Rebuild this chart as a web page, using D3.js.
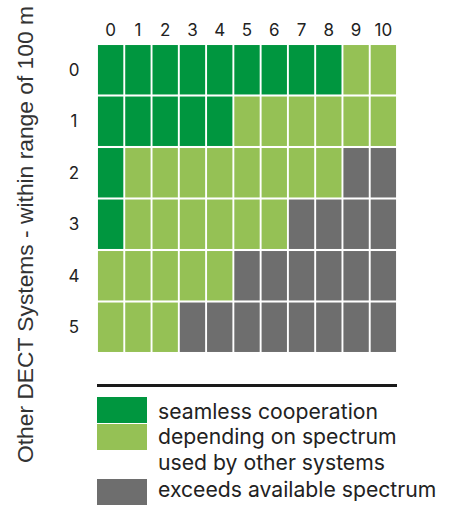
<!DOCTYPE html>
<html>
<head>
<meta charset="utf-8">
<script src="https://cdn.jsdelivr.net/npm/d3@7"></script>
<style>
  body { margin: 0; background: #fff; }
  text { font-family: Inter, Roboto, "Noto Sans", sans-serif; fill: #222; }
</style>
</head>
<body>
<div id="chart"></div>
<script>
// columns: own systems, rows: other DECT systems within 100 m
var cols = ["0", "1", "2", "3", "4", "5", "6", "7", "8", "9", "10"];
var rows = ["0", "1", "2", "3", "4", "5"];
// s = seamless cooperation, d = depending on spectrum, x = exceeds spectrum
var row0 = ["s", "s", "s", "s", "s", "s", "s", "s", "s", "d", "d"];
var row1 = ["s", "s", "s", "s", "s", "d", "d", "d", "d", "d", "d"];
var row2 = ["s", "d", "d", "d", "d", "d", "d", "d", "d", "x", "x"];
var row3 = ["s", "d", "d", "d", "d", "d", "d", "x", "x", "x", "x"];
var row4 = ["d", "d", "d", "d", "d", "x", "x", "x", "x", "x", "x"];
var row5 = ["d", "d", "d", "x", "x", "x", "x", "x", "x", "x", "x"];
var legendKeys = ["s", "d", "x"];
var legendLabels = [["seamless cooperation"], ["depending on spectrum", "used by other systems"], ["exceeds available spectrum"]];

var grid = [row0, row1, row2, row3, row4, row5];
var cells = [];
grid.forEach(function (r, i) {
  r.forEach(function (v, j) { cells.push({ row: rows[i], col: cols[j], v: v }); });
});

var width = 460, height = 507;
var svg = d3.select("#chart").append("svg")
  .attr("width", width).attr("height", height);

var color = d3.scaleOrdinal().domain(legendKeys).range(["#00963f", "#95c155", "#6e6e6e"]);

var x = d3.scaleBand().domain(cols).range([97, 397]).paddingInner(0.07).paddingOuter(0.035);
var y = d3.scaleBand().domain(rows).range([44, 353]).paddingInner(0.04).paddingOuter(0.02);

svg.append("g").selectAll("rect")
  .data(cells)
  .enter().append("rect")
  .attr("x", function (d) { return x(d.col); })
  .attr("y", function (d) { return y(d.row); })
  .attr("width", x.bandwidth())
  .attr("height", y.bandwidth())
  .attr("fill", function (d) { return color(d.v); });

// column labels
svg.append("g").selectAll("text")
  .data(cols)
  .enter().append("text")
  .attr("x", function (d) { return x(d) + x.bandwidth() / 2; })
  .attr("y", 36)
  .attr("text-anchor", "middle")
  .attr("font-size", 17)
  .text(function (d) { return d; });

// row labels
svg.append("g").selectAll("text")
  .data(rows)
  .enter().append("text")
  .attr("x", 74)
  .attr("y", function (d) { return y(d) + y.bandwidth() / 2; })
  .attr("dy", "0.36em")
  .attr("text-anchor", "middle")
  .attr("font-size", 17)
  .text(function (d) { return d; });

// axis title
svg.append("text")
  .attr("transform", "translate(33,234.5) rotate(-90)")
  .attr("text-anchor", "middle")
  .attr("font-size", 22.8)
  .style("font-family", "'Liberation Sans', Arial, sans-serif")
  .style("fill", "#333")
  .text("Other DECT Systems - within range of 100 m");

// legend
svg.append("line")
  .attr("x1", 97).attr("x2", 397)
  .attr("y1", 385.5).attr("y2", 385.5)
  .attr("stroke", "#1a1a1a").attr("stroke-width", 3);

var legendY = [397, 424, 479];
var leg = svg.append("g").selectAll("g")
  .data(legendKeys)
  .enter().append("g")
  .attr("transform", function (d, i) { return "translate(97," + legendY[i] + ")"; });

leg.append("rect")
  .attr("width", 50).attr("height", 26)
  .attr("fill", function (d) { return color(d); });

leg.append("text")
  .attr("x", 61)
  .attr("y", function (d, i) { return [21.5, 20, 17.5][i]; })
  .attr("font-size", 21.2)
  .selectAll("tspan")
  .data(function (d, i) { return legendLabels[i]; })
  .enter().append("tspan")
  .attr("x", 61)
  .attr("dy", function (d, i) { return i ? 26 : 0; })
  .text(function (d) { return d; });
</script>
</body>
</html>
